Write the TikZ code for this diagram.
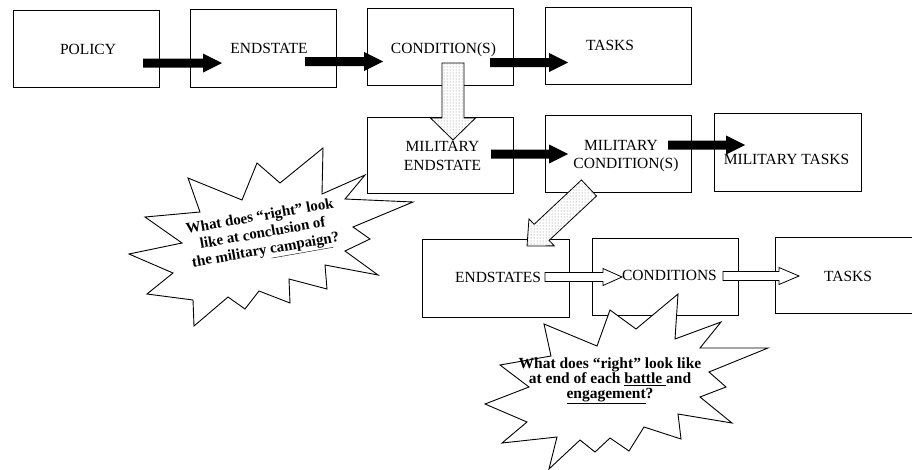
\documentclass[tikz,border=0pt]{standalone}
\usepackage{fontspec}
\setmainfont{Liberation Serif}
\usetikzlibrary{calc,patterns}
\newcommand\blkarrow[6]{%
  \coordinate (tmpH) at ($(#3)!#6!(#2)$);
  \path[#1] ($(#2)!#4!90:(#3)$) -- ($(tmpH)!#4!90:(#3)$) -- ($(tmpH)!#5!90:(#3)$) -- (#3)
    -- ($(tmpH)!#5!-90:(#3)$) -- ($(tmpH)!#4!-90:(#3)$) -- ($(#2)!#4!-90:(#3)$) -- cycle;
}
\begin{document}
\begin{tikzpicture}[x=1pt,y=-1pt,
  box/.style={draw, line width=1pt, inner sep=0pt},
  lbl/.style={anchor=base, inner sep=0pt, font=\fontsize{15.5}{18}\selectfont},
  burst/.style={draw, fill=white, line width=0.9pt, line join=miter},
  solidarrow/.style={fill=black},
  hollowarrow/.style={draw, fill=white, line width=0.8pt},
  speckarrow/.style={draw, line width=0.8pt, preaction={fill=white}, pattern=dots, pattern color=gray},
  bubble/.style={font=\bfseries\fontsize{15}{17}\selectfont, align=center, inner sep=0pt}]
\clip (0,0) rectangle (912,469);
% boxes
\node[box, minimum width=146pt, minimum height=77pt] (policy) at (86,48.5) {};
\node[box, minimum width=146pt, minimum height=78pt] (endstate) at (263,48) {};
\node[box, minimum width=146pt, minimum height=77pt] (cond) at (440,46.5) {};
\node[box, minimum width=146pt, minimum height=77pt] (tasks) at (618,45.5) {};
\node[box, minimum width=146pt, minimum height=76pt] (milend) at (440,155) {};
\node[box, minimum width=146pt, minimum height=77pt] (milcond) at (618,153.5) {};
\node[box, minimum width=147pt, minimum height=78pt] (miltasks) at (787.5,152) {};
\node[box, minimum width=147pt, minimum height=78pt] (ends) at (495.5,278) {};
\node[box, minimum width=146pt, minimum height=77pt] (conds) at (665,276.5) {};
\node[box, minimum width=150pt, minimum height=76pt] (tasks2) at (850,275) {};
% starbursts
\draw[burst] (129,254) -- (173,273) -- (147,294) -- (193,300) -- (194,326) -- (228,297) -- (245,309)
  -- (259,291) -- (290,303) -- (289,279) -- (327,289) -- (325,265) -- (378,275) -- (345,251)
  -- (370,239) -- (353,227) -- (413,202) -- (345,199) -- (365,175) -- (322,194) -- (323,148)
  -- (280,183) -- (257,163) -- (242,200) -- (188,178) -- (200,212) -- (145,217) -- (182,243) -- cycle;
\node[bubble, rotate=10] (q1) at (263,235) {What does “right” look\\like at conclusion of\\the military \underline{campaign}?};
\draw[burst] (678,294) -- (675,339) -- (721,322) -- (700,348) -- (768,348) -- (709,372) -- (726,387)
  -- (700,397) -- (732,423) -- (678,414) -- (681,439) -- (644,427) -- (629,451) -- (610,438)
  -- (595,452) -- (580,440) -- (549,469) -- (557,437) -- (502,443) -- (527,422) -- (485,404)
  -- (529,387) -- (500,365) -- (551,356) -- (544,324) -- (597,346) -- (610,310) -- (636,329) -- cycle;
\node[bubble, font=\bfseries\fontsize{15.5}{15}\selectfont] (q2) at (610,381) {What does “right” look like\\at end of each \underline{battle }and\\\underline{engagement}?};
% arrow end points
\coordinate (a1s) at (143,63);   \coordinate (a1e) at (222,63);
\coordinate (a2s) at (305,61.5); \coordinate (a2e) at (383,61.5);
\coordinate (a3s) at (490,62.5); \coordinate (a3e) at (568,62.5);
\coordinate (a4s) at (491,154);  \coordinate (a4e) at (568,154);
\coordinate (a5s) at (668,145);  \coordinate (a5e) at (745,145);
\coordinate (d1s) at (453,63);   \coordinate (d1e) at (453,140);
\coordinate (d2s) at (589,188);  \coordinate (d2e) at (527,246);
\coordinate (h1s) at (545,277);  \coordinate (h1e) at (622,277);
\coordinate (h2s) at (723,276);  \coordinate (h2e) at (799,276);
\blkarrow{solidarrow}{a1s}{a1e}{4.5pt}{9.5pt}{19pt}
\blkarrow{solidarrow}{a2s}{a2e}{4.5pt}{9.5pt}{19pt}
\blkarrow{solidarrow}{a3s}{a3e}{4.5pt}{9.5pt}{19pt}
\blkarrow{solidarrow}{a4s}{a4e}{4.5pt}{9.5pt}{19pt}
\blkarrow{solidarrow}{a5s}{a5e}{4.5pt}{9.5pt}{19pt}
\blkarrow{speckarrow}{d1s}{d1e}{11pt}{22.5pt}{22pt}
\blkarrow{speckarrow}{d2s}{d2e}{11pt}{18.5pt}{20pt}
\blkarrow{hollowarrow}{h1s}{h1e}{4.5pt}{8.5pt}{19pt}
\blkarrow{hollowarrow}{h2s}{h2e}{4.5pt}{8.5pt}{20pt}
% labels
\node[lbl] (tPolicy) at (88,54.3) {POLICY};
\node[lbl] (tEndstate) at (269,53) {ENDSTATE};
\node[lbl] (tCond) at (443.5,53) {CONDITION(S)};
\node[lbl] (tTasks) at (610,50) {TASKS};
\node[lbl] (tMilA) at (442.5,151) {MILITARY};
\node[lbl] (tMilB) at (442.5,170.5) {ENDSTATE};
\node[lbl] (tMcA) at (621,150) {MILITARY};
\node[lbl] (tMcB) at (626,168) {CONDITION(S)};
\node[lbl] (tMt) at (786.5,164) {MILITARY TASKS};
\node[lbl] (tEnds) at (498,282) {ENDSTATES};
\node[lbl] (tConds) at (669.5,280) {CONDITIONS};
\node[lbl] (tTasks2) at (848,281.5) {TASKS};
\end{tikzpicture}
\end{document}
